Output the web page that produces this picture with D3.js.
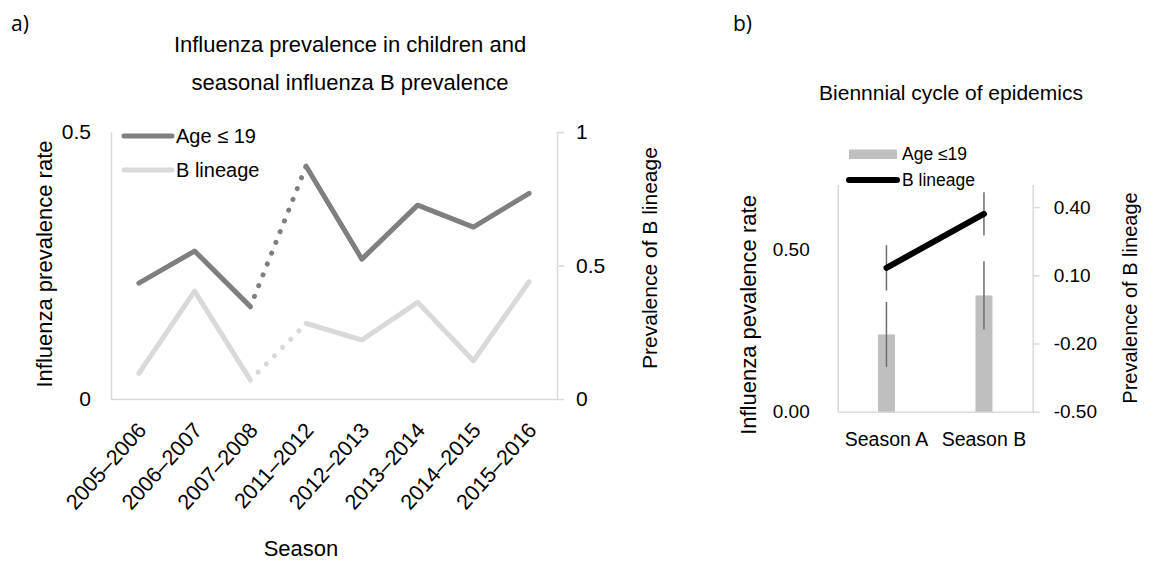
<!DOCTYPE html>
<html>
<head>
<meta charset="utf-8">
<script src="https://cdn.jsdelivr.net/npm/d3@7"></script>
<style>
  body { margin: 0; background: #fff; }
  text { font-family: "Liberation Sans", Arial, sans-serif; fill: #000; }
</style>
</head>
<body>
<svg id="chart" width="1154" height="562"></svg>
<script>
// ---- Panel a data ----
const seasons = ["2005–2006","2006–2007","2007–2008","2011–2012","2012–2013","2013–2014","2014–2015","2015–2016"];
const ageRate = [0.217, 0.277, 0.173, 0.436, 0.262, 0.363, 0.322, 0.385];   // left axis
const bLineage = [0.096, 0.404, 0.071, 0.283, 0.221, 0.362, 0.143, 0.439];  // right axis
const aLeftTicks = [0, 0.5];
const aRightTicks = [0, 0.5, 1];
const gapIndex = 2; // dotted segment between index 2 and 3

// ---- Panel b data ----
const periods = ["Season A", "Season B"];
const barAge = [0.238, 0.358];
const barAgeErr = [0.100, 0.105];
const lineB = [0.133, 0.370];
const lineBErr = [0.100, 0.095];
const bLeftTicks = [0, 0.5];
const bRightTicks = [-0.5, -0.2, 0.1, 0.4];

const svg = d3.select("#chart");
const axisGray = "#d9d9d9";
const fmt2 = d => d3.format(".2f")(d).replace("−", "-");

// ================= PANEL A =================
const ax = d3.scaleBand().domain(seasons).range([111, 557]).padding(0);
const ayL = d3.scaleLinear().domain([0, 0.5]).range([399, 132]);
const ayR = d3.scaleLinear().domain([0, 1]).range([399, 132]);
const cx = d => ax(d) + ax.bandwidth() / 2;

svg.append("text").attr("x", 11).attr("y", 31).style("font-family", "'Open Sans', sans-serif")
  .style("font-size", "21px").text("a)");

svg.append("text").attr("x", 350).attr("y", 52).attr("text-anchor", "middle")
  .style("font-size", "22px").text("Influenza prevalence in children and");
svg.append("text").attr("x", 350).attr("y", 90).attr("text-anchor", "middle")
  .style("font-size", "22px").text("seasonal influenza B prevalence");

// left axis (line only, labels)
const gL = svg.append("g").attr("transform", "translate(111,0)")
  .call(d3.axisLeft(ayL).tickValues(aLeftTicks).tickSize(0).tickPadding(20).tickFormat(d => d === 0 ? "0" : d3.format(".1f")(d)));
gL.select(".domain").attr("stroke", axisGray).attr("stroke-width", 1.5);
gL.selectAll("text").style("font-size", "21px").style("font-family", "'Liberation Sans', Arial, sans-serif").attr("fill", "#000");

// right axis
const gR = svg.append("g").attr("transform", "translate(557,0)")
  .call(d3.axisRight(ayR).tickValues(aRightTicks).tickSize(7).tickPadding(12).tickSizeOuter(0).tickFormat(d => d === 0 ? "0" : (d === 1 ? "1" : d3.format(".1f")(d))));
gR.select(".domain").attr("stroke", axisGray).attr("stroke-width", 1.5);
gR.selectAll(".tick line").attr("stroke", axisGray).attr("stroke-width", 1.5);
gR.selectAll("text").style("font-size", "21px").style("font-family", "'Liberation Sans', Arial, sans-serif").attr("fill", "#000");

// bottom axis
const gB = svg.append("g").attr("transform", "translate(0,399)")
  .call(d3.axisBottom(ax).tickSize(0).tickPadding(0));
gB.select(".domain").attr("stroke", axisGray).attr("stroke-width", 1.5);
gB.selectAll("text")
  .style("font-size", "21.5px").style("font-family", "'Liberation Sans', Arial, sans-serif").attr("fill", "#000")
  .attr("text-anchor", "end")
  .attr("dy", "0.35em")
  .attr("transform", "translate(3,27) rotate(-48)");

// axis titles
svg.append("text").attr("transform", "translate(52,264) rotate(-90)").attr("text-anchor", "middle")
  .style("font-size", "22px").text("Influenza prevalence rate");
svg.append("text").attr("transform", "translate(657,258) rotate(-90)").attr("text-anchor", "middle")
  .style("font-size", "21px").text("Prevalence of B lineage");
svg.append("text").attr("x", 301).attr("y", 556).attr("text-anchor", "middle")
  .style("font-size", "22px").text("Season");

// lines
function drawSeries(vals, yScale, color) {
  const pts = vals.map((v, i) => [cx(seasons[i]), yScale(v)]);
  const line = d3.line();
  svg.append("path").attr("d", line(pts.slice(0, gapIndex + 1)))
    .attr("fill", "none").attr("stroke", color).attr("stroke-width", 5)
    .attr("stroke-linecap", "round").attr("stroke-linejoin", "round");
  svg.append("path").attr("d", line(pts.slice(gapIndex + 1)))
    .attr("fill", "none").attr("stroke", color).attr("stroke-width", 5)
    .attr("stroke-linecap", "round").attr("stroke-linejoin", "round");
  svg.append("path").attr("d", line(pts.slice(gapIndex, gapIndex + 2)))
    .attr("fill", "none").attr("stroke", color).attr("stroke-width", 5)
    .attr("stroke-linecap", "round").attr("stroke-dasharray", "0.1 11.5").attr("stroke-dashoffset", -11);
}
drawSeries(bLineage, ayR, "#d9d9d9");
drawSeries(ageRate, ayL, "#7f7f7f");

// legend a
const legA = [{label: "Age ≤ 19", color: "#7f7f7f", y: 136}, {label: "B lineage", color: "#d9d9d9", y: 170}];
legA.forEach(l => {
  svg.append("line").attr("x1", 124).attr("x2", 172).attr("y1", l.y).attr("y2", l.y)
    .attr("stroke", l.color).attr("stroke-width", 5).attr("stroke-linecap", "round");
  svg.append("text").attr("x", 176).attr("y", l.y).attr("dy", "0.35em")
    .style("font-size", "20px").text(l.label);
});

// ================= PANEL B =================
const bx = d3.scaleBand().domain(periods).range([837.7, 1032.7]).padding(0);
const byL = d3.scaleLinear().domain([0, 0.7]).range([411.7, 184.4]);
const byR = d3.scaleLinear().domain([-0.5, 0.5]).range([411.7, 184.4]);
const bcx = d => bx(d) + bx.bandwidth() / 2;

svg.append("text").attr("x", 733).attr("y", 31).style("font-family", "'Open Sans', sans-serif")
  .style("font-size", "21px").text("b)");
svg.append("text").attr("x", 951).attr("y", 100).attr("text-anchor", "middle")
  .style("font-size", "21px").text("Biennnial cycle of epidemics");

const hL = svg.append("g").attr("transform", "translate(837.7,0)")
  .call(d3.axisLeft(byL).tickValues(bLeftTicks).tickSize(0).tickPadding(28).tickFormat(fmt2));
hL.select(".domain").attr("stroke", axisGray).attr("stroke-width", 1.5);
hL.selectAll("text").style("font-size", "19px").style("font-family", "'Liberation Sans', Arial, sans-serif").attr("fill", "#000");

const hR = svg.append("g").attr("transform", "translate(1032.7,0)")
  .call(d3.axisRight(byR).tickValues(bRightTicks).tickSize(7).tickPadding(14).tickSizeOuter(0).tickFormat(fmt2));
hR.select(".domain").attr("stroke", axisGray).attr("stroke-width", 1.5);
hR.selectAll(".tick line").attr("stroke", axisGray).attr("stroke-width", 1.5);
hR.selectAll("text").style("font-size", "19px").style("font-family", "'Liberation Sans', Arial, sans-serif").attr("fill", "#000");

const hB = svg.append("g").attr("transform", "translate(0,411.7)")
  .call(d3.axisBottom(bx).tickSize(0).tickPadding(20));
hB.select(".domain").attr("stroke", axisGray).attr("stroke-width", 1.5);
hB.selectAll("text").style("font-size", "19.5px").style("font-family", "'Liberation Sans', Arial, sans-serif").attr("fill", "#000");

// bars
svg.selectAll(".barb").data(periods).enter().append("rect")
  .attr("x", d => bcx(d) - 8.5).attr("width", 17)
  .attr("y", (d, i) => byL(barAge[i])).attr("height", (d, i) => byL(0) - byL(barAge[i]))
  .attr("fill", "#bfbfbf");
// bar error bars
svg.selectAll(".errb").data(periods).enter().append("line")
  .attr("x1", d => bcx(d)).attr("x2", d => bcx(d))
  .attr("y1", (d, i) => byL(barAge[i] + barAgeErr[i])).attr("y2", (d, i) => byL(barAge[i] - barAgeErr[i]))
  .attr("stroke", "#6e6e6e").attr("stroke-width", 1.5);
// line error bars
svg.selectAll(".errl").data(periods).enter().append("line")
  .attr("x1", d => bcx(d)).attr("x2", d => bcx(d))
  .attr("y1", (d, i) => byR(lineB[i] + lineBErr[i])).attr("y2", (d, i) => byR(lineB[i] - lineBErr[i]))
  .attr("stroke", "#6e6e6e").attr("stroke-width", 1.5);
// line
svg.append("path").attr("d", d3.line()(periods.map((p, i) => [bcx(p), byR(lineB[i])])))
  .attr("fill", "none").attr("stroke", "#000").attr("stroke-width", 6).attr("stroke-linecap", "round");

// axis titles b
svg.append("text").attr("transform", "translate(756,315) rotate(-90)").attr("text-anchor", "middle")
  .style("font-size", "22px").text("Influenza pevalence rate");
svg.append("text").attr("transform", "translate(1137,298) rotate(-90)").attr("text-anchor", "middle")
  .style("font-size", "20px").text("Prevalence of B lineage");

// legend b
svg.append("rect").attr("x", 849).attr("y", 149.5).attr("width", 48).attr("height", 9.5).attr("fill", "#bfbfbf");
svg.append("text").attr("x", 902).attr("y", 154).attr("dy", "0.35em").style("font-size", "17.5px").text("Age ≤19");
svg.append("line").attr("x1", 849).attr("x2", 897).attr("y1", 180).attr("y2", 180)
  .attr("stroke", "#000").attr("stroke-width", 6).attr("stroke-linecap", "round");
svg.append("text").attr("x", 902).attr("y", 180).attr("dy", "0.35em").style("font-size", "17.5px").text("B lineage");
</script>
</body>
</html>
